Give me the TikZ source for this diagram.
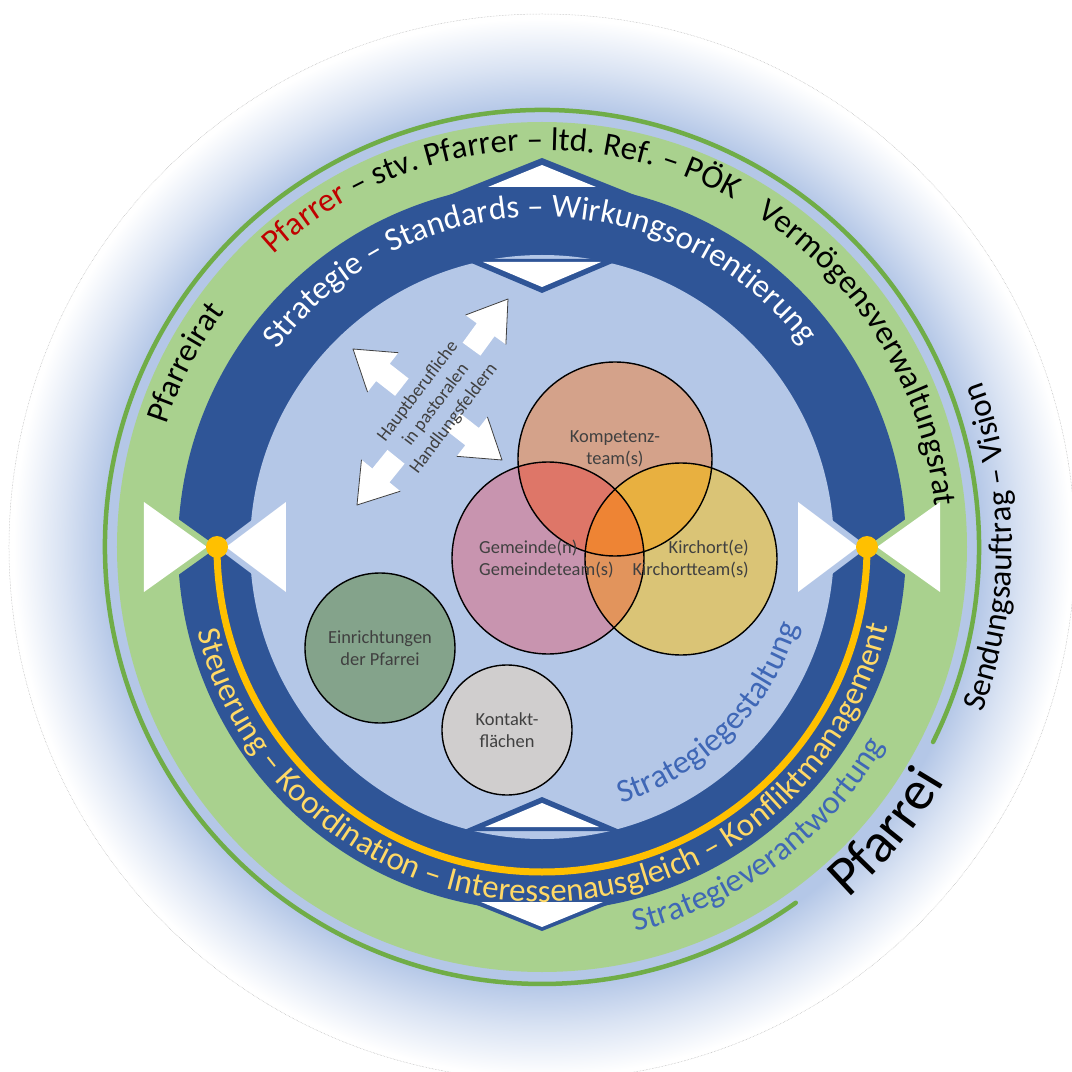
\documentclass[tikz,border=0pt]{standalone}
\usepackage{fontspec}
\setmainfont{Carlito}
\usetikzlibrary{decorations.text}

\definecolor{paleblue}{HTML}{B4C7E7}
\definecolor{ringgreen}{HTML}{A9D18E}
\definecolor{linegreen}{HTML}{70AD47}
\definecolor{bandblue}{HTML}{2F5597}
\definecolor{goldline}{HTML}{FFC000}
\definecolor{goldtext}{HTML}{FFD966}
\definecolor{stratblue}{HTML}{3F67B6}
\definecolor{pfred}{HTML}{C00000}
\definecolor{inktext}{HTML}{404040}
\definecolor{kompfill}{HTML}{D4A28A}
\definecolor{gemfill}{HTML}{C894AF}
\definecolor{kirchfill}{HTML}{DAC476}
\definecolor{kompgem}{HTML}{DE7668}
\definecolor{kompkirch}{HTML}{E8B040}
\definecolor{gemkirch}{HTML}{E2945C}
\definecolor{allthree}{HTML}{EE8434}
\definecolor{einrfill}{HTML}{84A38B}
\definecolor{kontfill}{HTML}{D0CECE}

\newcommand{\ringfont}{\fontsize{33}{40}\selectfont}
\newcommand{\pfarreifont}{\fontsize{56}{64}\selectfont}
\newcommand{\smallfont}{\fontsize{18.5}{22.5}\selectfont}

\pgfdeclareradialshading{halo}{\pgfpointorigin}{color(0bp)=(paleblue); color(20.5bp)=(paleblue); color(22.5bp)=(paleblue!50!white); color(24.8bp)=(white); color(50bp)=(white)}

\tikzset{
  arctext/.style={decorate, decoration={text along path, text align=center, text={#1}}},
  lbl/.style={font=\smallfont, text=inktext, inner sep=0pt},
  blockarrow/.pic={
    \fill[white] (0,0) -- (-38,25) -- (-38,11) -- (-62,11) -- (-62,-11) -- (-38,-11) -- (-38,-25) -- cycle;
    \draw[black!75, line width=0.8bp, line join=round] (-38,25) -- (0,0) -- (-38,-25);
  }
}

\begin{document}
\begin{tikzpicture}[x=1bp, y=1bp]
  \useasboundingbox (-542,-525) rectangle (530,547);
  %halo and outer line
  \shade[shading=halo] (0,0) circle[radius=533];
  \draw[black!30, line width=0.5bp, densely dotted] (0,0) circle[radius=533];
  \draw[linegreen, line width=4.5bp, line cap=round] (-26.5:437) arc[start angle=-26.5, end angle=305.5, radius=437];
  %rings
  \fill[ringgreen] (0,0) circle[radius=425];
  \fill[bandblue] (0,0) circle[radius=364];
  \fill[bandblue] (-115,343) -- (0,389) -- (115,343) -- cycle;
  \fill[bandblue] (-115,-338) -- (0,-384) -- (115,-338) -- cycle;
  \fill[paleblue] (0,0) circle[radius=292];
  \fill[bandblue] (-80,288) -- (0,254) -- (80,288) -- cycle;
  \fill[bandblue] (-80,-284) -- (0,-250) -- (80,-284) -- cycle;
  %windows top and bottom
  \fill[white] (-54,360) -- (0,382) -- (54,360) -- cycle;
  \fill[white] (-59,285) -- (0,260) -- (59,285) -- cycle;
  \fill[white] (-57,-280) -- (0,-256) -- (57,-280) -- cycle;
  \fill[white] (-61,-355) -- (0,-380) -- (61,-355) -- cycle;
  %bow ties left and right
  \foreach \s in {-1,1}{
    \draw[ringgreen, line width=12bp, line join=round] (\s*398,45) -- (\s*335,0) -- (\s*398,-45) -- cycle;
    \draw[paleblue, line width=12bp, line join=round] (\s*256,45) -- (\s*316,0) -- (\s*256,-45) -- cycle;
    \fill[white] (\s*398,45) -- (\s*335,0) -- (\s*398,-45) -- cycle;
    \fill[white] (\s*256,45) -- (\s*316,0) -- (\s*256,-45) -- cycle;
  }
  \draw[goldline, line width=7bp] (180:325) arc[start angle=180, end angle=360, radius=325];
  \fill[goldline] (180:325) circle[radius=11];
  \fill[goldline] (0:325) circle[radius=11];

  %texts along the rings
  \path[arctext={|\ringfont\color{pfred}|Pfarrer|\ringfont\color{black}| – stv. Pfarrer – ltd. Ref. – PÖK}]
    (186.9:397) arc[start angle=186.9, end angle=6.9, radius=397];
  \path[arctext={|\ringfont|Vermögensverwaltungsrat}]
    (121.5:395) arc[start angle=121.5, end angle=-58.5, radius=395];
  \path[arctext={|\ringfont|Pfarreirat}]
    (242.7:395) arc[start angle=242.7, end angle=62.7, radius=395];
  \path[arctext={|\ringfont\color{white}|Strategie – Standards – Wirkungsorientierung}]
    (180.5:330) arc[start angle=180.5, end angle=0.5, radius=330];
  \path[arctext={|\ringfont\color{goldtext}|Steuerung – Koordination – Interessenausgleich – Konfliktmanagement}]
    (175.5:355) arc[start angle=175.5, end angle=365.5, radius=355];
  \path[arctext={|\ringfont\color{stratblue}|Strategiegestaltung}]
    (225:268) arc[start angle=225, end angle=405, radius=268];
  \path[arctext={|\ringfont\color{stratblue}|Strategieverantwortung}]
    (216.8:396) arc[start angle=216.8, end angle=396.8, radius=396];
  \path[arctext={|\pfarreifont|Pfarrei}]
    (230.4:466) arc[start angle=230.4, end angle=410.4, radius=466];
  \path[arctext={|\ringfont|Sendungsauftrag – Vision}]
    (-90:470) arc[start angle=-90, end angle=90, radius=470];

  %venn
  \coordinate (komp) at (73,88);
  \coordinate (gem) at (6,-11);
  \coordinate (kirch) at (139,-12);
  \fill[kompfill] (komp) circle[radius=97];
  \fill[gemfill] (gem) circle[radius=96];
  \fill[kirchfill] (kirch) circle[radius=96];
  \begin{scope}
    \clip (gem) circle[radius=96];
    \fill[gemkirch] (kirch) circle[radius=96];
  \end{scope}
  \begin{scope}
    \clip (komp) circle[radius=97];
    \fill[kompgem] (gem) circle[radius=96];
    \fill[kompkirch] (kirch) circle[radius=96];
    \clip (gem) circle[radius=96];
    \fill[allthree] (kirch) circle[radius=96];
  \end{scope}
  \draw[line width=1.4bp] (komp) circle[radius=97] (gem) circle[radius=96] (kirch) circle[radius=96];
  \node[lbl, align=center] at (73,98) (komplbl){Kompetenz-\\team(s)};
  \node[lbl, align=left, anchor=west] at (-63,-12) (gemlbl){Gemeinde(n)\\Gemeindeteam(s)};
  \node[lbl, align=right, anchor=east] at (207,-12) (kirchlbl){Kirchort(e)\\Kirchortteam(s)};
  \node[circle, draw, line width=1.4bp, fill=einrfill, minimum size=150bp, lbl, align=center] at (-162,-101) (einr){Einrichtungen\\der Pfarrei};
  \node[circle, draw, line width=1.4bp, fill=kontfill, minimum size=130bp, lbl, align=center] at (-35,-183) (kont){Kontakt-\\flächen};

  %arrows round the text
  \pic[rotate=54] at (-34,248) {blockarrow};
  \pic[rotate=231] at (-185,42) {blockarrow};
  \pic[rotate=142] at (-189,198) {blockarrow};
  \pic[rotate=-38] at (-40,87) {blockarrow};
  \node[lbl, rotate=53, align=center] at (-106,142) (haupt){Hauptberufliche\\in pastoralen\\Handlungsfeldern};
\end{tikzpicture}
\end{document}
